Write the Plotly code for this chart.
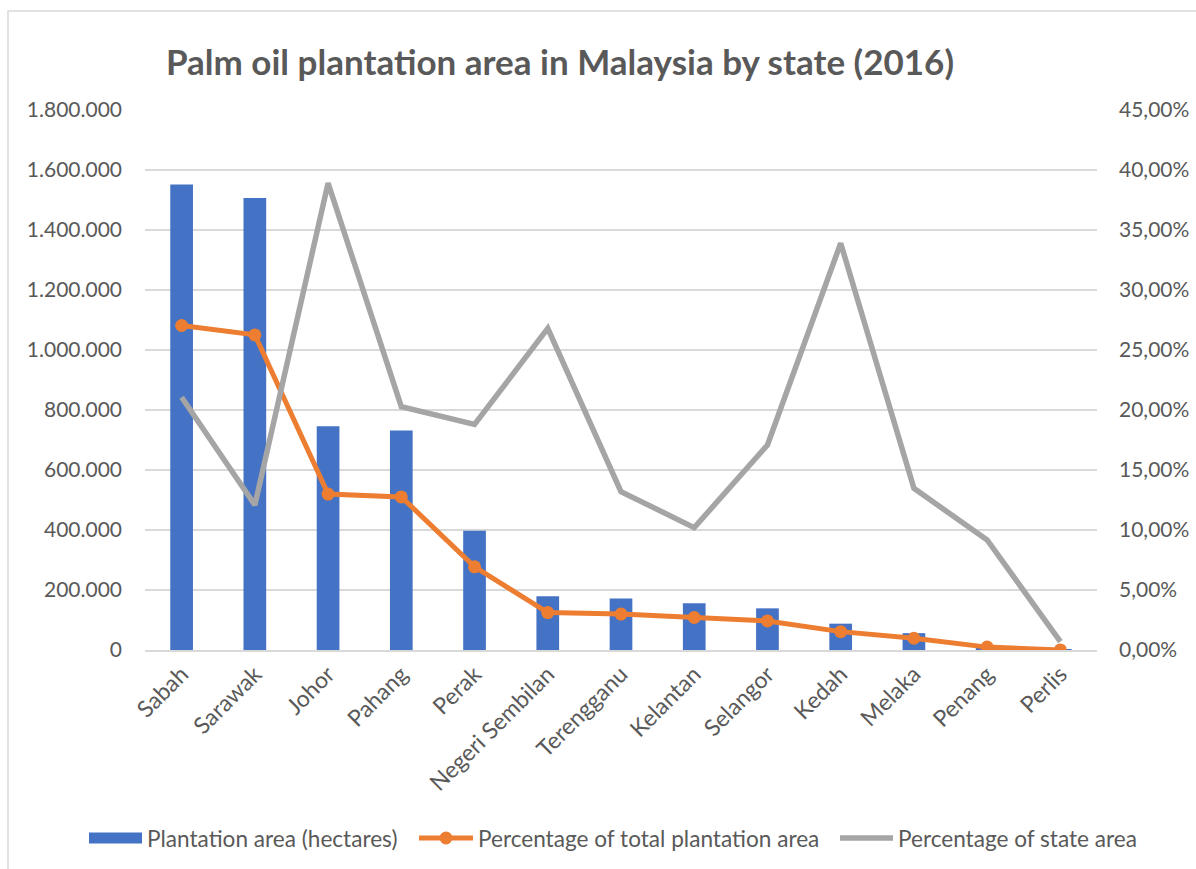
import plotly.graph_objects as go

# Palm oil plantation data by state, 2016
states = ["Sabah", "Sarawak", "Johor", "Pahang", "Perak", "Negeri Sembilan",
          "Terengganu", "Kelantan", "Selangor", "Kedah", "Melaka", "Penang", "Perlis"]
plantation_area = [1551714, 1506769, 745630, 732052, 397908, 178958,
                   171789, 155458, 138831, 87786, 56149, 14054, 629]
pct_total_area = [0.2704, 0.2626, 0.1299, 0.1276, 0.0693, 0.0312,
                  0.0299, 0.0271, 0.0242, 0.0153, 0.0098, 0.0024, 0.0001]
pct_state_area = [0.2106, 0.1208, 0.3890, 0.2028, 0.1880, 0.2680,
                  0.1320, 0.1020, 0.1708, 0.3390, 0.1347, 0.0917, 0.0069]

series_names = ["Plantation area (hectares)",
                "Percentage of total plantation area",
                "Percentage of state area"]

TEXT = "#595959"
GRID = "#d9d9d9"
BLUE = "#4472c4"
ORANGE = "#ed7d31"
GREY = "#a5a5a5"
FONT = "Lato, 'Open Sans', sans-serif"

# plot-area geometry in pixels (used to place the frame and legend)
W, H = 1196, 869
L, R, T, B = 145, 99, 110, 219
PW, PH = W - L - R, H - T - B


def px(x):
    return (x - L) / PW


def py(y):
    return (H - B - y) / PH


fig = go.Figure()

fig.add_trace(go.Bar(
    x=states, y=plantation_area, name=series_names[0],
    marker=dict(color=BLUE, line=dict(width=0)), width=0.31, yaxis="y",
))
fig.add_trace(go.Scatter(
    x=states, y=pct_total_area, name=series_names[1],
    mode="lines+markers", yaxis="y2",
    line=dict(color=ORANGE, width=5),
    marker=dict(color=ORANGE, size=13),
))
fig.add_trace(go.Scatter(
    x=states, y=pct_state_area, name=series_names[2],
    mode="lines", yaxis="y2",
    line=dict(color=GREY, width=5.5),
))

# legend row drawn at the bottom of the chart
leg_y = 838
shapes = [
    # outer chart frame
    dict(type="rect", xref="paper", yref="paper",
         x0=px(8), x1=1.2, y0=-0.6, y1=py(11),
         line=dict(color=GRID, width=1.5), fillcolor="rgba(0,0,0,0)",
         layer="below"),
    dict(type="rect", xref="paper", yref="paper",
         x0=px(89), x1=px(142), y0=py(leg_y + 5.5), y1=py(leg_y - 5.5),
         line=dict(width=0), fillcolor=BLUE),
    dict(type="line", xref="paper", yref="paper",
         x0=px(419), x1=px(473), y0=py(leg_y), y1=py(leg_y),
         line=dict(color=ORANGE, width=5)),
    dict(type="circle", xref="paper", yref="paper",
         x0=px(439.5), x1=px(452.5), y0=py(leg_y + 6.5), y1=py(leg_y - 6.5),
         line=dict(width=0), fillcolor=ORANGE),
    dict(type="line", xref="paper", yref="paper",
         x0=px(840), x1=px(893), y0=py(leg_y), y1=py(leg_y),
         line=dict(color=GREY, width=5.5)),
]
annotations = [
    dict(text=name, xref="paper", yref="paper", x=px(x0), y=py(leg_y),
         xanchor="left", yanchor="middle", showarrow=False,
         font=dict(family=FONT, size=22.6, color=TEXT))
    for name, x0 in zip(series_names, [145, 476, 896])
]

fig.update_layout(
    width=W, height=H,
    margin=dict(l=L, r=R, t=T, b=B),
    paper_bgcolor="white", plot_bgcolor="white",
    separators=",.",
    showlegend=False,
    font=dict(family=FONT, size=21, color=TEXT),
    title=dict(
        text="<b>Palm oil plantation area in Malaysia by state (2016)</b>",
        font=dict(family=FONT, size=35, color=TEXT),
        x=560 / W, xanchor="center", y=1 - 63 / H, yanchor="middle",
    ),
    xaxis=dict(
        type="category", range=[-0.5, 12.5], tickangle=-45, showgrid=False,
        showline=True, linecolor=GRID, linewidth=1.5, automargin=False,
        ticks="", tickfont=dict(size=23, color=TEXT),
    ),
    yaxis=dict(
        range=[0, 1800000], dtick=200000, tickformat=",d",
        showgrid=True, gridcolor=GRID, gridwidth=1.5,
        zeroline=False, showline=False, ticks="", automargin=False,
        ticklabelstandoff=22,
        tickfont=dict(size=21, color=TEXT),
    ),
    yaxis2=dict(
        range=[0, 0.45], dtick=0.05, tickformat=".2%",
        overlaying="y", side="right", automargin=False,
        showgrid=False, zeroline=False, showline=False, ticks="",
        ticklabelstandoff=21,
        tickfont=dict(size=21, color=TEXT),
    ),
    shapes=shapes,
    annotations=annotations,
)

fig.write_html("out.html")
